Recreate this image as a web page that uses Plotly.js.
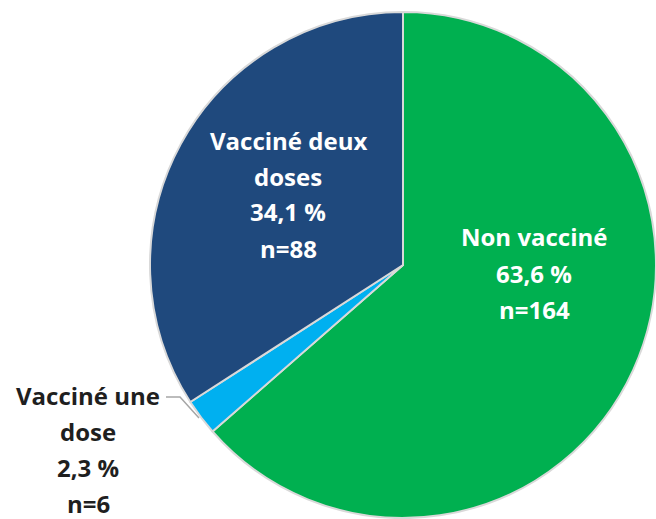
<!DOCTYPE html>
<html>
<head>
<meta charset="utf-8">
<script src="https://cdn.plot.ly/plotly-3.0.1.min.js"></script>
<style>
html,body{margin:0;padding:0;overflow:hidden;background:#fff;}
#chart{width:656px;height:519px;}
</style>
</head>
<body>
<div id="chart"></div>
<script>
// Data
const labels = ["Non vacciné", "Vacciné une dose", "Vacciné deux doses"];
const labelLines = [["Non vacciné"], ["Vacciné une", "dose"], ["Vacciné deux", "doses"]];
const counts = [164, 6, 88];
const colors = ["#00B050", "#00B0F0", "#1F497D"];

const W = 656, H = 519;
const total = counts.reduce((a, b) => a + b, 0);
const pctText = counts.map(v => (v / total * 100).toFixed(1).replace('.', ',') + ' %');
const lines = counts.map((v, i) => labelLines[i].concat([pctText[i], 'n=' + v]));

// Pie geometry (pixels)
const cx = 403, cy = 265, R = 253;
const px = x => x / W, py = y => 1 - y / H;

const trace = {
  type: 'pie',
  labels: labels,
  values: counts,
  sort: false,
  direction: 'clockwise',
  rotation: 0,
  marker: {colors: colors, line: {color: '#D9D9D9', width: 2}},
  textinfo: 'none',
  hoverinfo: 'label+value+percent',
  showlegend: false,
  domain: {x: [px(cx - R), px(cx + R)], y: [py(cy + R), py(cy - R)]}
};

const fontFamily = 'Open Sans, Noto Sans, sans-serif';
const fontSize = 24;
const lineGap = 36;
const annPos = [
  {x: 534, y0: 237, color: '#FFFFFF'},
  {x: 88, y0: 395, color: '#1F1F1F'},
  {x: 288, y0: 140, color: '#FFFFFF'}
];
const annotations = [];
lines.forEach((ls, i) => {
  ls.forEach((t, j) => {
    annotations.push({
      text: '<b>' + t + '</b>',
      x: px(annPos[i].x), y: py(annPos[i].y0 + j * lineGap),
      xref: 'paper', yref: 'paper',
      xanchor: 'center', yanchor: 'middle',
      showarrow: false,
      align: 'center',
      font: {family: fontFamily, size: fontSize, color: annPos[i].color}
    });
  });
});

// leader line for small slice
const shapes = [{
  type: 'path',
  xref: 'paper', yref: 'paper',
  path: `M ${px(166)} ${py(397)} L ${px(180)} ${py(397)} L ${px(199)} ${py(418)}`,
  line: {color: '#A6A6A6', width: 1.5}
}];

const layout = {
  width: W, height: H,
  margin: {l: 0, r: 0, t: 0, b: 0},
  paper_bgcolor: '#FFFFFF',
  annotations: annotations,
  shapes: shapes
};

Plotly.newPlot('chart', [trace], layout, {displayModeBar: false, staticPlot: true});
</script>
</body>
</html>
